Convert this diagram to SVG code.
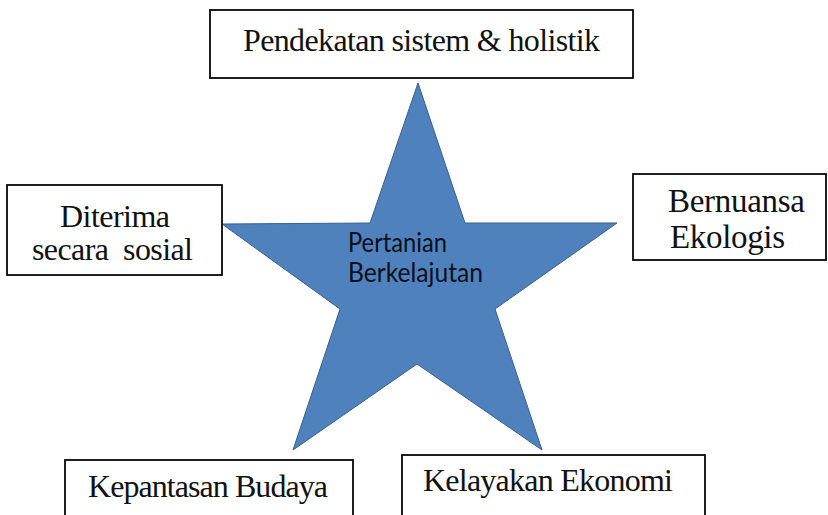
<svg xmlns="http://www.w3.org/2000/svg" width="828" height="515" viewBox="0 0 828 515">
  <style>
    .box { fill: #ffffff; stroke: #000000; stroke-width: 1.75; }
    .lbl { font-family: "Liberation Serif", "Times New Roman", serif; font-size: 32px; fill: #111111; }
    .star { fill: #4F81BD; stroke: #3A5F8B; stroke-width: 1; }
    .stxt { font-family: Lato, "Open Sans", "Liberation Sans", sans-serif; font-size: 26px; fill: #0b0f1a; }
  </style>
  <rect width="828" height="515" fill="#ffffff"/>
  <g id="connectors"/>
  <g id="star-node">
    <polygon class="star" points="418,83 465,223 617,223 495,309 542,450 417,364 293,450 340,309 222,224 370,223"/>
    <text class="stxt" x="348" y="252" textLength="99" lengthAdjust="spacingAndGlyphs">Pertanian</text>
    <text class="stxt" x="348" y="282" textLength="135" lengthAdjust="spacingAndGlyphs">Berkelajutan</text>
  </g>
  <g id="node-top">
    <rect class="box" x="210" y="10" width="423" height="68"/>
    <text class="lbl" x="243" y="51" textLength="357">Pendekatan sistem &amp; holistik</text>
  </g>
  <g id="node-left">
    <rect class="box" x="7" y="185" width="215" height="90"/>
    <text class="lbl" x="60" y="227" textLength="110">Diterima</text>
    <text class="lbl" x="32" y="260" textLength="161" xml:space="preserve">secara  sosial</text>
  </g>
  <g id="node-right">
    <rect class="box" x="633" y="174" width="193" height="86"/>
    <text class="lbl" x="668" y="212" textLength="137" style="font-size:33px">Bernuansa</text>
    <text class="lbl" x="670" y="248" textLength="115" style="font-size:33px">Ekologis</text>
  </g>
  <g id="node-bottom-left">
    <rect class="box" x="65" y="460" width="288" height="70"/>
    <text class="lbl" x="88" y="497" textLength="240">Kepantasan Budaya</text>
  </g>
  <g id="node-bottom-right">
    <rect class="box" x="402" y="455" width="303" height="75"/>
    <text class="lbl" x="423" y="491" textLength="250">Kelayakan Ekonomi</text>
  </g>
</svg>
